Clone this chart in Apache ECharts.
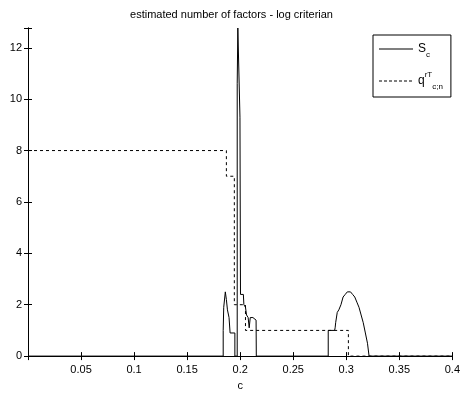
<!DOCTYPE html>
<html><head><meta charset="utf-8">
<script src="https://cdn.jsdelivr.net/npm/echarts@6/dist/echarts.min.js"></script>
<style>html,body{margin:0;padding:0;background:#fff}#c{width:463px;height:396px}</style>
</head><body><div id="c"></div>
<script>
// Sc (solid) points: c values and values
const scX = [0,0.184,0.184,0.1845,0.1855,0.186,0.187,0.188,0.1895,0.1905,0.1905,0.195,0.195,0.1972,0.1972,0.1978,0.1978,0.1995,0.1998,0.2003,0.2003,0.203,0.2035,0.205,0.206,0.2075,0.2085,0.2095,0.212,0.215,0.2152,0.283,0.283,0.289,0.2895,0.290,0.2915,0.293,0.295,0.297,0.299,0.301,0.304,0.306,0.308,0.31,0.312,0.314,0.316,0.318,0.32,0.3215,0.4];
const scY = [0,0,1.0,1.9,2.3,2.5,2.2,1.8,1.5,1.5,0.9,0.9,0,0,10.6,10.6,12.77,12.77,9.3,9.3,2.4,2.4,2.0,1.9,1.6,1.5,1.1,1.5,1.5,1.4,0,0,1.0,1.0,1.1,1.3,1.7,1.8,2.0,2.3,2.4,2.5,2.5,2.4,2.3,2.1,1.9,1.6,1.3,0.9,0.5,0,0];
// q (dashed) step points
const qX = [0,0.187,0.187,0.1945,0.1945,0.205,0.205,0.302,0.302,0.4];
const qY = [8,8,7,7,2,2,1,1,0,0];
const xTicks = [0,0.05,0.1,0.15,0.2,0.25,0.3,0.35,0.4];
const yTicks = [0,2,4,6,8,10,12];
const yMax = 12.77;

const font = '"Liberation Sans", Arial, sans-serif';
const chart = echarts.init(document.getElementById('c'));
const zip = (a,b)=>a.map((v,i)=>[v,b[i]]);
const axisCommon = {
  axisLine:{show:true,lineStyle:{color:'#000',width:1}},
  axisTick:{show:true,inside:true,length:4,lineStyle:{color:'#000'}},
  splitLine:{show:false}
};
let dashPath = 'path://';
for (let x = 0; x < 34; x += 5) dashPath += 'M' + x + ',0h3v1h-3z';
dashPath += 'M34,0h0.01v1h-0.01z';
chart.setOption({
  animation:false,
  backgroundColor:'#fff',
  title:{text:'estimated number of factors - log criterian',left:'center',top:4,
    textStyle:{fontFamily:font,fontSize:11,fontWeight:'normal',color:'#000'}},
  grid:{left:28,right:5,top:28,bottom:34,show:false},
  legend:{
    left:373,top:35,orient:'vertical',itemWidth:34,itemHeight:10,itemGap:12,
    padding:[8,8,6,6],borderColor:'#000',borderWidth:1,backgroundColor:'#fff',
    itemStyle:{color:'#000',borderWidth:0},
    data:[{name:'Sc',icon:'path://M0,0h34v1h-34z'},{name:'q',icon:dashPath}],
    formatter:n=> n==='Sc' ? '{m|S}{sub|c}' : '{m|q}{sup|rT}{sub|c;n}',
    textStyle:{fontFamily:font,color:'#000',rich:{
      m:{fontFamily:font,fontSize:12,color:'#000'},
      sub:{fontFamily:font,fontSize:8,color:'#000',verticalAlign:'bottom',lineHeight:20},
      sup:{fontFamily:font,fontSize:8,color:'#000',verticalAlign:'top',lineHeight:20}
    }}
  },
  xAxis:[
    Object.assign({type:'value',min:0,max:0.4,interval:0.05,name:'c',nameLocation:'middle',nameGap:20,
      nameTextStyle:{fontFamily:font,fontSize:11,color:'#000'},
      axisLabel:{fontFamily:font,fontSize:11,color:'#000',margin:8,
        formatter:v=> v===0 ? '' : String(+v.toFixed(2))}},axisCommon),
    Object.assign({type:'value',min:0,max:0.4,interval:0.05,position:'top',axisLabel:{show:false}},axisCommon)
  ],
  yAxis:[
    Object.assign({type:'value',min:0,max:yMax,interval:2,
      axisLabel:{fontFamily:font,fontSize:11,color:'#000',margin:6,
        formatter:v=> yTicks.includes(Math.round(v*100)/100) ? String(v) : ''}},axisCommon),
    Object.assign({type:'value',min:0,max:yMax,interval:2,position:'right',axisLabel:{show:false}},axisCommon)
  ],
  series:[
    {name:'Sc',type:'line',data:zip(scX,scY),showSymbol:false,symbol:'none',
      lineStyle:{color:'#000',width:1},itemStyle:{color:'#000'}},
    {name:'q',type:'line',data:zip(qX,qY),showSymbol:false,symbol:'none',
      lineStyle:{color:'#000',width:1,type:[3,3]},itemStyle:{color:'#000'}}
  ]
});
</script></body></html>
